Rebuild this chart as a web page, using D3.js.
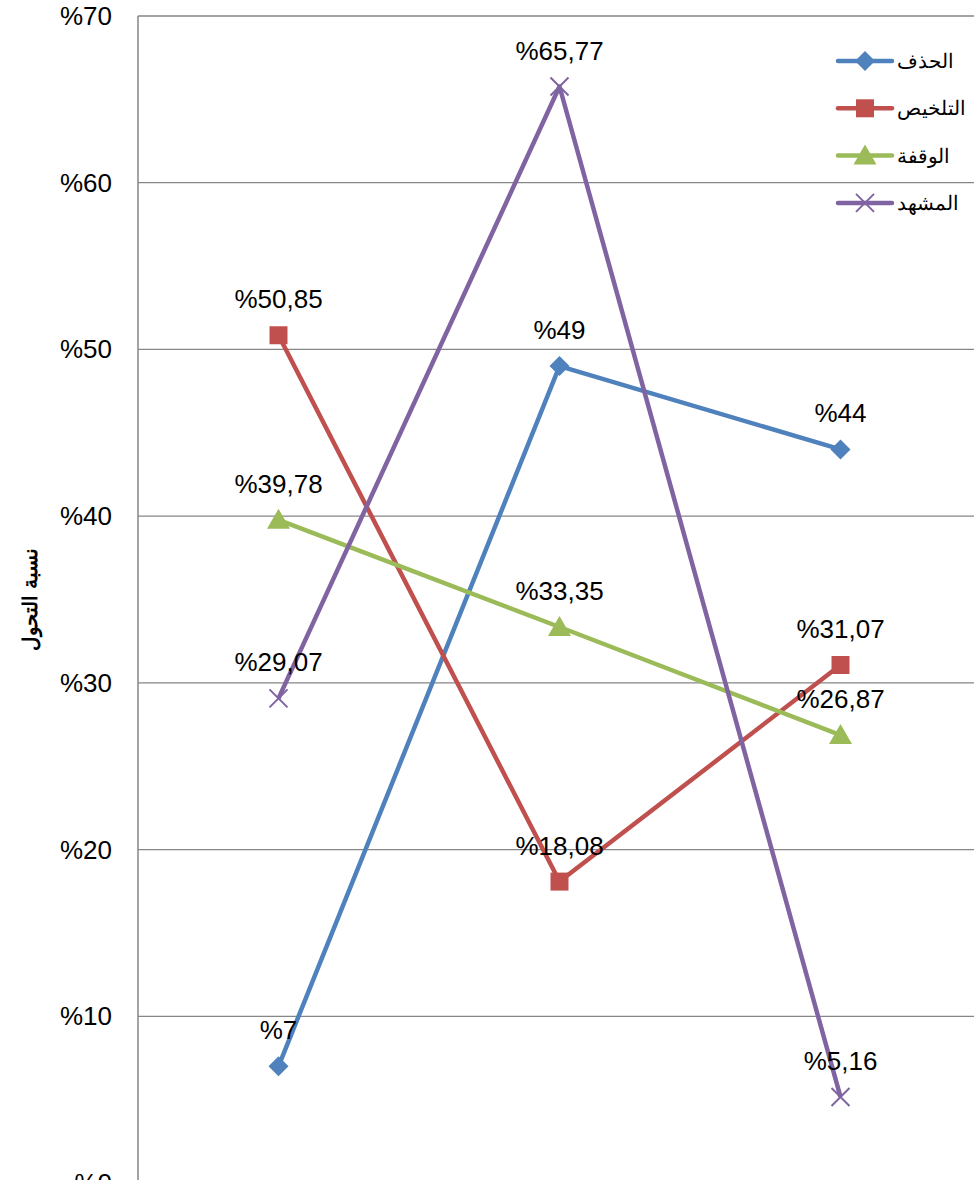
<!DOCTYPE html>
<html>
<head>
<meta charset="utf-8">
<script src="https://cdn.jsdelivr.net/npm/d3@7"></script>
<style>
  body { margin: 0; background: #fff; }
  svg { display: block; font-family: "Liberation Sans", Arial, sans-serif; }
</style>
</head>
<body>
<script>
// Chart data
const categories = ['a', 'b', 'c'];
const seriesNames = ['الحذف', 'التلخيص', 'الوقفة', 'المشهد'];
const hadhf = [7, 49, 44];
const talkhis = [50.85, 18.08, 31.07];
const waqfa = [39.78, 33.35, 26.87];
const mashhad = [29.07, 65.77, 5.16];
const yTicks = [0, 10, 20, 30, 40, 50, 60, 70];

const colors = ['#4F81BD', '#C0504D', '#9BBB59', '#8064A2'];
const markers = ['diamond', 'square', 'triangle', 'cross'];
const seriesValues = [hadhf, talkhis, waqfa, mashhad];

const width = 974, height = 1180;
const plotLeft = 138, plotRight = 981, plotTop = 16, plotBottom = 1183;

const svg = d3.select('body').append('svg')
  .attr('width', width)
  .attr('height', height);

const x = d3.scalePoint().domain(categories).range([plotLeft, plotRight]).padding(0.5);
const y = d3.scaleLinear().domain([0, 70]).range([plotBottom, plotTop]);

// gridlines
svg.append('g')
  .selectAll('line')
  .data(yTicks)
  .enter()
  .append('line')
  .attr('x1', plotLeft)
  .attr('x2', width)
  .attr('y1', d => y(d))
  .attr('y2', d => y(d))
  .attr('stroke', '#868686')
  .attr('stroke-width', 1.3);

// y axis line
svg.append('line')
  .attr('x1', plotLeft).attr('x2', plotLeft)
  .attr('y1', plotTop).attr('y2', plotBottom)
  .attr('stroke', '#868686')
  .attr('stroke-width', 1.5);

// tick labels
svg.append('g')
  .selectAll('text')
  .data(yTicks)
  .enter()
  .append('text')
  .attr('x', 112)
  .attr('y', d => y(d) + 9)
  .attr('text-anchor', 'end')
  .attr('font-size', 26)
  .text(d => '%' + d);

// y axis title
svg.append('text')
  .attr('transform', `translate(37, ${(plotTop + plotBottom) / 2}) rotate(-90)`)
  .attr('text-anchor', 'middle')
  .attr('font-size', 20)
  .attr('font-weight', 'bold')
  .text('نسبة التحول');

function markerPath(type) {
  if (type === 'diamond') return 'M0,-10L10,0L0,10L-10,0Z';
  if (type === 'square') return 'M-9,-9H9V9H-9Z';
  if (type === 'triangle') return 'M0,-11L11.5,9L-11.5,9Z';
  return 'M-9,-9L9,9M9,-9L-9,9';
}

function drawMarker(g, type, color) {
  const p = g.append('path').attr('d', markerPath(type));
  if (type === 'cross') {
    p.attr('fill', 'none').attr('stroke', color).attr('stroke-width', 2);
  } else {
    p.attr('fill', color);
  }
}

const line = d3.line()
  .x((d, i) => x(categories[i]))
  .y(d => y(d));

// series lines + markers
seriesValues.forEach((vals, s) => {
  svg.append('path')
    .datum(vals)
    .attr('d', line)
    .attr('fill', 'none')
    .attr('stroke', colors[s])
    .attr('stroke-width', 4.5)
    .attr('stroke-linejoin', 'round');

  vals.forEach((v, i) => {
    const g = svg.append('g')
      .attr('transform', `translate(${x(categories[i])}, ${y(v)})`);
    drawMarker(g, markers[s], colors[s]);
  });
});

// data labels
seriesValues.forEach((vals, s) => {
  svg.append('g')
    .selectAll('text')
    .data(vals)
    .enter()
    .append('text')
    .attr('x', (d, i) => x(categories[i]))
    .attr('y', d => y(d) - 27)
    .attr('text-anchor', 'middle')
    .attr('font-size', 26)
    .text(d => '%' + String(d).replace('.', ','));
});

// legend
const legend = svg.append('g');
seriesNames.forEach((name, s) => {
  const ly = 61 + s * 47.3;
  const g = legend.append('g');
  g.append('line')
    .attr('x1', 838).attr('x2', 892)
    .attr('y1', ly).attr('y2', ly)
    .attr('stroke', colors[s])
    .attr('stroke-width', 4.5)
    .attr('stroke-linecap', 'round');
  const m = g.append('g').attr('transform', `translate(865, ${ly})`);
  drawMarker(m, markers[s], colors[s]);
  g.append('text')
    .attr('x', 897)
    .attr('y', ly + 7)
    .attr('font-size', 20)
    .text(name);
});
</script>
</body>
</html>
